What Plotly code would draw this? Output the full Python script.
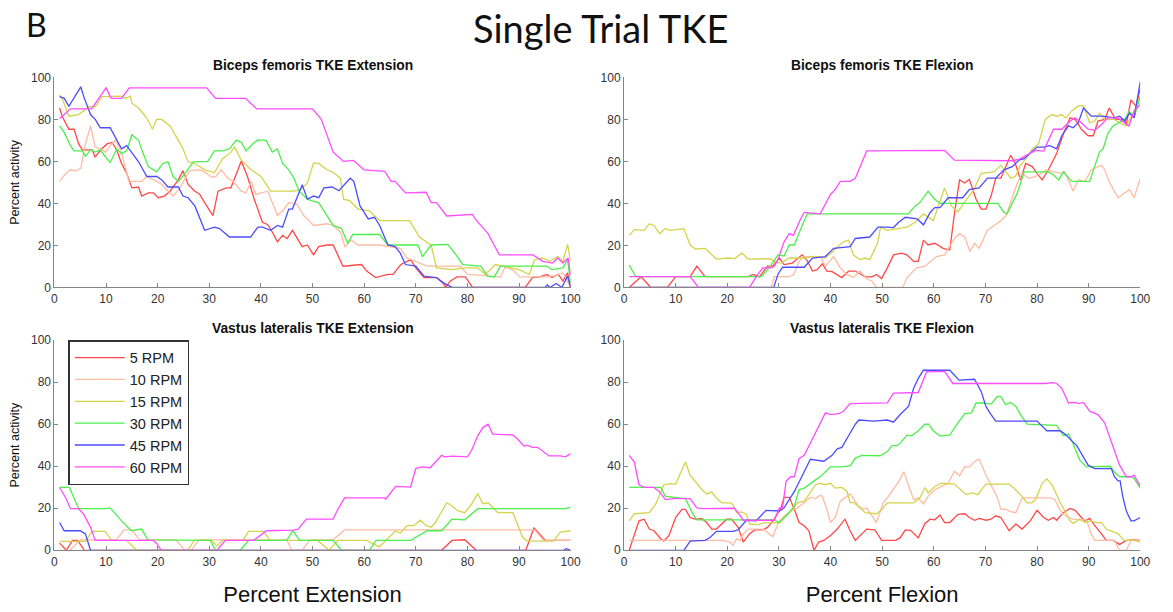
import plotly.graph_objects as go

# ---------------------------------------------------------------------------
# Data: (percent of movement, percent activity) vertices for each cadence
# ---------------------------------------------------------------------------
RPM_LABELS = ["5 RPM", "10 RPM", "15 RPM", "30 RPM", "45 RPM", "60 RPM"]
RPM_COLORS = ["#ff4848", "#ffbba3", "#d4d44c", "#4cef4c", "#4c4cff", "#ff4cff"]

# Biceps femoris, extension
BF_EXT_5 = [(1,85.4),(1.5,81.5),(2.8,75.3),(3.8,75.3),(4.7,68.3),(5.4,65.5),(7.3,65.5),(7.9,62),(8.5,64),(9.2,66),(10.2,68.3),(11.2,69),(12.1,65.2),(13,59),(14,54.3),(15,47.4),(16.3,47.8),(16.9,43.5),(18.2,45),(19.2,45),(20.1,42.7),(21.3,43.5),(22.4,45.8),(24,51.2),(24.9,55.6),(25.9,49),(27.2,45.8),(28.1,44.5),(29.1,40.4),(30.7,34.2),(31.7,45.8),(33.3,47.4),(34.2,47.4),(36.2,60.2),(37.4,52.8),(38.7,42),(40.3,31),(41.3,30),(42.2,26.4),(43.2,21.7),(44.2,24.8),(45.1,23.3),(46.1,27.2),(47,23.3),(48,19.4),(49,20.2),(50.2,15.5),(51.2,19.4),(52.8,20.2),(54,20.2),(55,14.8),(55.9,10.1),(59.5,10.9),(60.5,7.8),(62.2,4.7),(64.6,6.2),(65.6,6.2),(67.1,10.9),(69,13.2),(70,9.3),(71.6,4.7),(74,4.7),(75.3,2),(75.8,0),(76.7,3.1),(78,5),(79.6,5),(81,0),(91.2,0),(92.6,4.7),(94,5),(95.4,6.2),(96.4,4.7),(97.6,6.2),(98.5,3),(99.4,7),(100,0)]
BF_EXT_10 = [(1,50.5),(2.2,54.3),(3.1,56),(4.1,55.5),(5.1,56.7),(6,68.3),(7,76.9),(7.9,66.8),(8.9,66),(9.9,64.4),(10.8,67.5),(11.8,70),(13,64.4),(14.4,50.5),(16.9,50.5),(17.9,52.8),(19.8,50.5),(20.8,49),(21.7,46.6),(23,43.5),(24.3,47.4),(25.3,52),(26.2,55.6),(28.1,56),(29.1,55),(30.4,52.5),(31.3,52.8),(32.3,56),(33.6,52),(34.6,50.5),(36.2,45.8),(37.1,45),(38.1,50.5),(39,44.3),(40.3,45),(41.3,45.8),(42.2,40.4),(43.2,34.2),(44.5,37.3),(45.4,40.4),(47,39.6),(48.3,34.2),(49.3,31.8),(50.2,29.5),(52.8,30.3),(54,29.5),(55.4,26.4),(56.3,19.4),(57.5,22.5),(58.8,20.2),(63,20.2),(65,19.4),(67,18.6),(68.3,14),(70.6,11.6),(72.2,10.1),(78.6,10.1),(80,6.2),(86.4,5),(87.4,10.1),(88.9,8),(90.2,5),(95,5),(97,5.5),(98.5,7),(99.4,3),(100,0)]
BF_EXT_15 = [(1,91.6),(1.5,90),(2.8,81.5),(4.7,82.3),(6.7,86),(7.9,86),(9.2,90.8),(13,91),(13.8,90),(14.7,91),(15,87.7),(16.3,85.4),(17.6,81.5),(18.2,79.2),(19,75.3),(19.8,80),(20.8,80),(22.4,76.9),(24,70),(24.9,66),(25.9,59.8),(27.2,59),(29.1,56),(31,54.7),(32.6,61.3),(34.2,64.4),(34.9,66.8),(36.2,60.6),(38.1,56),(40,52.8),(41.9,45.8),(46.4,45.8),(47.7,46.5),(49,49.7),(50.2,59.3),(51.2,59),(52.8,56),(54,54.7),(55.4,52),(56,42),(57.2,41.3),(58.8,37.3),(61,36.5),(63,31.8),(68.8,31.8),(70.7,24),(73,20),(74,9.3),(77,8.5),(79.6,9.3),(82,9.3),(83.5,6.2),(85.4,10.9),(90,8.5),(92,6.2),(93,13.2),(94.6,14),(96,12.4),(97.5,14.7),(98.5,12.4),(99.4,20.5),(100,12.4)]
BF_EXT_30 = [(1,76.9),(1.9,73.8),(3.1,67.5),(3.8,65),(5.4,65),(6,62.4),(7,65.5),(7.9,64.4),(8.9,65.5),(9.9,62),(10.8,59.5),(12.1,66),(13,63.7),(14,65),(15,72.7),(16.3,70),(17.2,63.7),(18.2,57.5),(19.8,55),(21,59),(22,59.8),(23,52.8),(24,50.5),(25.3,54.3),(26.9,59.8),(29.7,60),(31,65),(32.6,65),(33.9,66),(35.2,70),(36.2,69.2),(37.1,65),(38.4,68.3),(39.4,70.2),(41,70),(42.2,64.4),(43.2,66),(44.2,59),(45.4,56),(46.4,52),(47.4,45.8),(49,42),(50.2,41),(51.2,40.4),(54,29.5),(55.6,28),(56.8,21),(57.8,25.2),(63,25.2),(64.6,20.2),(70.4,20.2),(71.3,14.8),(73,20.2),(76.2,20.5),(77.8,15.5),(79.1,10.9),(82.6,10.1),(83.9,5.4),(85.2,5),(86.4,10.1),(95.4,10.1),(96.4,8.5),(98.5,9.3),(99.4,13.2),(100,2)]
BF_EXT_45 = [(1,90.8),(1.9,90),(2.8,86.2),(3.8,90),(5.1,95.5),(5.8,90),(7,82.3),(7.9,80),(8.9,76),(10.8,76),(12.1,70),(13,66),(14,67.5),(15,64.4),(16.3,59.8),(17.9,52.8),(19.8,52.8),(20.8,51.2),(22,47.8),(24,47.8),(24.9,43.5),(25.9,42.7),(27.2,38.8),(29.1,27.2),(31,28.7),(32,28),(33.9,24),(38,24),(39.4,28.7),(40.3,28.7),(41.9,27.2),(43.2,29.5),(44.2,28.7),(45.4,37.3),(46.1,37.3),(48,48.9),(49,42),(50.2,43.5),(51.2,42.7),(52.2,47.4),(53.8,47.8),(55.1,46),(57.3,52),(58,50.5),(59.2,38.8),(60.8,32.6),(62,33.4),(63,29.5),(64.6,20.2),(66,19.4),(67,16.3),(68,10.9),(70,10.1),(71.6,5.4),(74,4.7),(75.3,2.3),(77,0),(95,0),(95.5,1.2),(96,0),(97.2,1.9),(98.3,0),(99.4,5.4),(100,0)]
BF_EXT_60 = [(1,80.3),(3.1,85),(7.2,85),(10,95),(11,90),(13,90),(14.5,95),(29.5,95),(31.2,90),(37,90),(39.2,85),(50,85),(51.7,80),(53,70.6),(54,64.4),(56,60),(57.9,60.5),(60,56),(64,55.3),(65.2,50.5),(66,50.5),(68,45),(72,45.3),(73,40.4),(74,40.4),(76,34),(81,34.8),(81.5,32.6),(84,25.6),(85,20.9),(86.2,15.5),(92.7,15.5),(94.6,12.4),(96.5,11.6),(97.5,14),(98.5,11.6),(99.5,14),(100,6)]

# Biceps femoris, flexion
BF_FLX_5 = [(1,0),(3.3,5.1),(5.2,0),(8.4,0),(10,5.1),(12.8,5.1),(14.1,10.1),(15.7,5.1),(24,5.1),(25,6.2),(26.2,5),(27.8,10.1),(28.8,10.1),(30.1,14),(31,10.9),(32.6,11.6),(34.5,15.5),(35.5,12.7),(36.5,7.8),(37.4,8.5),(38.4,11.2),(39.3,7.8),(40.3,7.5),(42.2,4.7),(43.5,7.8),(44.8,7.8),(46.7,5),(48,5),(48.9,6.2),(49.9,4.3),(51,9.3),(52.2,15.5),(53.8,16.3),(54.8,15.5),(56.1,12.4),(57,12.4),(58,22.5),(58.9,20.2),(60.2,21),(61.8,18.6),(63.1,17.8),(64,35),(65,51.2),(66,49.7),(66.9,51.5),(68.2,42),(69.2,37.3),(70.1,37.3),(71.1,43.5),(72,52),(73,52),(74.9,62.9),(75.8,59),(76.8,51.2),(77.8,59),(79.1,57.5),(80,54.3),(81,51.2),(82.2,56),(83.8,63.7),(85.1,73),(86.4,80.7),(87.4,80),(88.6,75.3),(89.9,72.2),(90.9,72.2),(91.8,79.2),(93.1,80),(94,85.4),(95.2,80),(96.9,80),(97.3,77.6),(98.2,89.3),(99.2,86.2),(100,94.7)]
BF_FLX_10 = [(1,0),(28.5,0),(29.1,5.1),(32,5.1),(32.9,6.2),(33.9,12.4),(34.9,14.7),(38,14.7),(39,10.1),(40.6,14.7),(41.9,9.3),(43.1,6.2),(44.4,4.7),(45.7,7.8),(47,4),(48,3.1),(48.9,0),(54,0),(54.8,4.7),(56.7,9.3),(58.3,10.1),(60.5,14.7),(62.1,15.5),(63.1,19.4),(64,23.3),(65,25.6),(66,24),(67,17.1),(67.9,21),(68.8,18.6),(70.4,27.2),(71.7,29.5),(73,31.8),(74,34.2),(74.9,40.4),(76.2,49.7),(77.1,54.3),(78.4,52),(79.7,52.8),(81.9,55.9),(83.2,55),(84.8,54.3),(85.4,55),(86.4,49.7),(87,45.8),(88,51.2),(89.3,50.5),(90.5,55.9),(92.5,58.2),(93.1,55.9),(94.1,49.7),(95.7,42.7),(96.7,44.3),(97.9,46.6),(98.8,42.7),(100,52)]
BF_FLX_15 = [(1,24.8),(2,27.5),(3.9,27.2),(4.9,30.3),(5.8,29.5),(6.9,25.6),(7.9,28),(9,27.2),(11.6,28),(12.8,20.2),(13.8,18.3),(15.7,18.6),(17.9,13.5),(20.2,14),(21.4,13.7),(22.9,16.3),(24,13.5),(28.2,13.7),(29.1,12.4),(30.4,11.6),(32,14),(34.9,14),(36.8,14.8),(39,14),(42.5,21.7),(43.5,22.5),(44.4,15.5),(45.7,13.2),(46.7,14),(47.6,13.2),(49.1,21),(49.7,28.7),(51,27.2),(53.5,28),(54.8,28.7),(56.4,31),(58,35),(59.9,31.8),(62.1,47.4),(63.4,38.8),(64.7,36),(66.6,42.7),(67.6,45.8),(69.2,54.3),(71.7,55),(73,58.2),(74.9,52),(75.8,52.8),(76.8,58.2),(78.1,62),(79.1,66),(80.3,68.3),(81.6,80),(82.9,82.3),(83.8,81.5),(84.8,82.3),(85.5,80.7),(86.7,83.9),(88,86.5),(89,86.5),(90.2,78.4),(91.2,79.2),(92.1,83),(93.1,80),(95,80),(96,78.4),(97.3,76.9),(98.5,82.3),(99.5,88),(100,90.8)]
BF_FLX_30 = [(1,10.6),(2.3,5.1),(26.6,5.1),(28.5,10.6),(29.8,15.5),(31,15),(32,20.2),(33,20.2),(34.5,29.5),(35.5,35),(55.1,35),(56.4,38.8),(57.3,40.4),(58.9,45.8),(60.2,42),(61.2,40),(72.4,40),(73.6,35.7),(74.2,35),(75.5,42),(76.2,45),(77.5,55),(82.2,55),(83.2,53.5),(84.2,51.2),(85.1,55),(86.7,50.5),(90.2,50.5),(91.2,57.5),(92.1,64.4),(92.8,66),(93.7,73),(94.7,76.9),(97,80),(97.9,83.9),(98.8,80.7),(100,90.8)]
BF_FLX_45 = [(1,0),(29,0),(29.8,6.2),(30.7,9.6),(34.9,9.6),(36.5,14),(39,14.7),(40.6,18.6),(43.8,19.4),(44.8,23.3),(47.6,24),(49.2,28.7),(50.9,28.7),(52.2,28.5),(53.2,31),(54.5,33.4),(56.8,32.6),(58,29.8),(59.3,35.7),(60.2,38),(61.2,38),(62.8,42.7),(65.6,42.7),(66.9,46.6),(68.8,47.4),(70.4,52),(72,52),(73.6,56),(75.2,57.5),(76.5,60.6),(77.5,61.3),(79.1,65),(80,66.8),(81.3,66.8),(82.5,67.5),(83.8,66),(84.8,72.2),(86.1,76.9),(87,76),(88,78.4),(89,85.4),(90.5,81.5),(92.7,81.5),(95,80.7),(96,81.5),(97,79.2),(97.9,83),(98.8,80.7),(100,97.8)]
BF_FLX_60 = [(1,5.1),(12.8,5.1),(14.4,0),(24.3,0),(25.9,6.2),(26.9,9.3),(28.5,9.3),(29.1,10.1),(29.8,13.2),(31,21.7),(32,25.6),(32.8,24.8),(34.2,32.6),(34.9,35.7),(38,35),(40,44.3),(40.9,46.6),(41.9,50.5),(43.8,50.5),(44.8,52),(46,59),(47,65),(62.1,65.2),(64,60.6),(75.2,60.3),(76.5,61),(79.7,65.2),(81.3,64.9),(82.2,70),(83.2,75.3),(84.8,75.3),(86.4,79.2),(87.4,80.7),(88.6,78.4),(89.9,75.3),(91.2,74.8),(92.5,77.6),(93.7,80.7),(95.6,80.7),(96.9,78.4),(97.8,76.9),(98.8,83.9),(100,87)]

# Vastus lateralis, extension
VL_EXT_5 = [(1,3.4),(2.3,0),(3.5,4.7),(4.5,4.7),(5.8,0),(75,0),(77,4.7),(79.5,5),(81.7,0),(91.3,0),(92.9,10.6),(95.1,4.7),(100,4.7)]
VL_EXT_10 = [(1,0),(3,0),(5,5),(12,5),(13.5,9.7),(15,9.7),(16.5,5),(23.5,5),(25.3,0),(26.5,0),(28,5),(45,5),(46,0),(48,0),(49.5,5),(54,5),(56.2,9.7),(93,9.7),(94.8,4.7),(100,4.7)]
VL_EXT_15 = [(1,4.2),(6,4.2),(7.3,9),(9.8,9),(11.1,4.7),(14,4.7),(15.9,0),(25.8,0),(27.1,4.7),(30.5,4.7),(31.5,2),(32.5,4.7),(36.5,4.7),(37.6,9),(40.5,9),(41.8,4.7),(51,4.7),(53.2,0),(54.9,4.7),(59.7,4.4),(60.5,4.7),(62.9,1.6),(64.2,4.7),(66.1,9.3),(67,8.1),(68.3,11.7),(69.6,11.7),(70.9,14.3),(72,11.7),(73,11),(73.8,13.2),(76,22.6),(76.6,21.8),(78.2,18.7),(79.5,17.9),(80.8,22),(82,27),(83,22.1),(84,22.6),(85.9,17.9),(88.8,17.9),(90.7,6.2),(91.6,4.4),(96.7,4.4),(98,8.6),(100,9.3)]
VL_EXT_30 = [(1,29.9),(2.9,29.9),(4.7,19.8),(9.8,19.8),(10.8,20.2),(13,14),(14.9,9.3),(16.9,10.1),(18.1,5),(29.9,5),(30.2,4.7),(31.2,0),(36,0),(37.6,4.7),(45,4.7),(46.2,9.3),(47.5,4.7),(54,4.7),(55.6,0),(61,0),(62.3,4.7),(69,4.7),(72.2,9.3),(75,9.3),(77,14.8),(79.5,14.5),(82,19.8),(99,19.8),(100,20.6)]
VL_EXT_45 = [(1,13.2),(1.9,9.3),(5,9.3),(6,7.8),(7,0),(98.6,0),(99.2,0.8),(100,0)]
VL_EXT_60 = [(1,29.9),(2.2,24.9),(3.1,19.8),(4.7,19.8),(5.7,17.1),(7,10.9),(7.9,4.7),(19.1,4.7),(19.8,3.4),(20.7,0),(31.5,0),(33.1,4.7),(38.6,4.7),(41.1,9.3),(46.2,9.6),(47.2,10.1),(48.8,14.8),(54,14.8),(54.9,19.5),(56.2,24.9),(63.9,24.9),(64.2,24.4),(66.1,30.4),(69,30.1),(70,38.9),(71.2,39.7),(72.8,39.3),(75,45.2),(75.6,44.5),(77,44.8),(80,44.5),(80.8,47.5),(82,54.5),(83,58.4),(84,60),(84.9,55.3),(88.8,54.9),(89.7,53),(91,49.5),(91.6,50),(92.6,49),(93.6,49),(95.8,44.9),(98,44.9),(99,44.5),(100,46)]

# Vastus lateralis, flexion
VL_FLX_5 = [(1,0),(2.9,14),(3.9,14.8),(4.9,10.1),(5.8,9.3),(7.1,5.5),(7.7,4.4),(8.7,7),(10,15.6),(11.2,19.5),(11.9,19.5),(12.8,15.6),(13.8,14.8),(15.1,15),(16,13.2),(17,10.1),(17.9,10.1),(18.9,12.5),(19.9,14.8),(20.8,14.8),(22.1,10.9),(23.1,3.9),(24.3,7.8),(25.3,9.7),(26.9,9.7),(27.8,10.9),(29.1,14.8),(30.4,20.2),(31,25.2),(32,25.2),(33,19.5),(33.9,13.2),(34.9,11.7),(35.8,9.3),(36.8,0),(37.7,3.9),(38.7,4.7),(40,7),(41.3,10.1),(42.8,14.8),(43.8,9.3),(44.8,4.7),(46,7.8),(47,10.1),(48.6,9.7),(49.9,4.7),(52.6,4.7),(53.5,6),(54.5,9.7),(55.5,9.5),(57,5.9),(58.3,12.8),(59.3,14.8),(60.2,14.5),(61.2,16.8),(62.1,13.2),(63.1,13.2),(64.7,17.1),(66,17.4),(66.9,15.6),(67.9,14.3),(68.8,15.2),(70.1,14.3),(71.1,14.8),(72,16.4),(73,15.6),(74.6,9.3),(75.9,12.5),(77.1,10.1),(78.7,14),(80,19),(81.3,15.6),(82.2,14.3),(83.2,15.6),(83.8,14.3),(85.1,17.9),(86.4,19.9),(87.4,19),(88.6,15.6),(89.3,14),(90.2,15.2),(91.2,11.7),(92.5,7.8),(93.4,4.7),(94.7,4.7),(96,2.8),(97.3,4.7),(98.9,5),(100,4.7)]
VL_FLX_10 = [(1,4.7),(19,4.7),(20.5,3.9),(21.1,2.3),(21.8,5.5),(22.5,4.7),(23.1,7.8),(24,10.1),(26.6,10.1),(27.2,9.7),(28.8,6.5),(30.1,14),(31.4,17.1),(32.3,18.7),(33.6,20.2),(34.9,22.6),(36.1,25.2),(37.1,24.6),(38,26.2),(38.4,25.7),(39.3,19.5),(40,13.2),(40.9,15.6),(41.9,23.4),(42.8,24.9),(43.8,26.8),(44.8,23.4),(45.4,21),(46.4,19.5),(47,20.2),(48.9,13.2),(50.2,22.6),(51,24.9),(51.9,28),(53.2,32.7),(54.2,37.4),(55.1,31.2),(56.1,24.1),(57,24.9),(58,22.1),(58.9,25.7),(60.2,28.8),(61.5,30.4),(62.8,31.9),(64,37.7),(65,35.5),(66,39.7),(66.9,39.7),(68.2,42.8),(68.8,43.3),(70.1,35.8),(71.4,29.6),(72.3,25.2),(73,19.5),(74,19.5),(74.9,18.4),(75.9,17.9),(77.1,24.9),(82.6,24.9),(83.5,24.1),(84.2,20.2),(85.1,17.1),(86.1,15.6),(87,14.8),(89.6,14.5),(90.5,7.8),(91.2,4.7),(95,4.7),(96,0),(97.3,0),(98.2,4.7),(100,4.7)]
VL_FLX_15 = [(1,14),(2,17.4),(4.9,17.9),(6.1,21.8),(7.7,31.2),(9,31.7),(10,31.5),(11.9,42),(12.8,35.8),(14.1,31.9),(15.1,28.8),(16,26.8),(17,27.7),(17.9,24.9),(18.9,22.6),(20.5,22.6),(21.1,21.8),(21.8,17.9),(22.7,18.3),(23.7,17.2),(24.3,12.5),(26,12.2),(27.2,13.2),(28.5,13.2),(30.1,13),(31,15.6),(32,17.9),(33.6,22.6),(34.9,23.4),(35.8,26.5),(37.1,31.2),(38,31.9),(38.9,31.2),(40,31.9),(40.9,29.6),(42.2,29.9),(43.2,28),(43.8,22.6),(44.4,22.9),(45.7,20.2),(46.7,17.9),(48.9,17.4),(49.6,18.7),(50,19.5),(51,22.6),(56.1,22.6),(57.3,24.9),(58.3,29.9),(58.9,27.3),(60.2,30.4),(61.5,31.9),(64,31.5),(65.6,28),(66.3,26.5),(67.6,27.3),(68.5,26.5),(70.1,31.5),(74.6,31.5),(75.5,29.6),(76.8,26.5),(78.1,22.6),(79,22.6),(79.7,24),(81,31.9),(81.9,34),(82.9,31.2),(83.8,26.5),(84.5,22.6),(85.4,18.7),(86.4,14),(87,12.8),(88.3,14.8),(89.3,13.2),(90.5,14),(91.5,13.2),(92.5,13.2),(93.4,10.1),(94.4,9),(95.7,7.8),(96.9,4.7),(98.8,4.7),(100,3.9)]
VL_FLX_30 = [(1,29.9),(7.1,29.9),(8,25.7),(11.2,25),(11.9,24.6),(13.2,17.9),(14.1,14.5),(29.1,14.5),(30.1,13.2),(31.7,17.1),(33,21),(33.9,28.8),(34.9,29.6),(37.1,33.5),(38,35),(40,39.7),(41.9,39.7),(43.8,40.2),(44.8,43.9),(46,45.2),(49.6,45),(51,47),(51.9,49.8),(52.9,49.8),(53.5,51),(54.8,54.8),(55.7,54.5),(57,56.9),(58.3,60),(59,60),(59.9,56.9),(61.2,54.5),(63.1,54.8),(64.7,60.7),(66,65.1),(67.3,65.4),(68.2,70.1),(69.5,70.1),(71.1,69.6),(72.3,73.2),(73,73.2),(73.9,69.3),(74.9,70.4),(75.9,68.5),(76.8,64.6),(78.1,60),(80.3,59.7),(83.8,59.5),(85.1,54.5),(86.1,55.3),(87,50.6),(88.3,42.8),(89.6,39.7),(94.1,40),(95,37.4),(96,35),(98.2,35),(98.8,34.2),(100,29.6)]
VL_FLX_45 = [(1,0),(11.6,0),(12.8,4.4),(15.7,4.7),(16.7,6.2),(17.9,9),(21.1,9),(22.1,9.7),(23.7,14.3),(25.6,14),(27.5,19),(30.1,18.7),(31,20.2),(33,28),(34.9,37.4),(36.1,43.3),(38.7,42.4),(40.3,45.2),(41.3,48.3),(42.2,49),(43.5,54.5),(44.8,60),(45.5,62),(48.4,61.5),(51,62),(52.2,61),(53.5,64.6),(54.1,66.2),(55.1,68.5),(56.1,77.1),(57,81.8),(58,85.7),(63.1,85.7),(64.9,81),(66.3,81.2),(67.9,81.4),(69.2,75.5),(70.1,68.5),(71.1,64.6),(72,61.5),(80,61.5),(81,58.9),(81.9,56.9),(84.5,56.9),(85.4,55.3),(86.7,52.2),(87.7,49.8),(88.6,46),(89.9,40.5),(91.2,38.9),(94.4,38.9),(95,35),(95.7,33),(96.1,33),(96.6,25.7),(97.3,18.7),(98.2,14),(98.8,14),(100,15.6)]
VL_FLX_60 = [(1,45.2),(2,42),(2.9,31.2),(3.9,29.9),(5.8,29.9),(6.8,28),(8,24.1),(9.6,24.6),(12.8,24.6),(14.1,20.2),(15.1,19.8),(20.5,19.8),(21.4,20),(22.1,17.9),(23.1,14.3),(29.1,14.3),(30.1,20.2),(30.7,20.2),(31.4,33),(32.3,35),(33,35),(33.9,43.6),(34.9,45.2),(36.8,54.5),(39,65.4),(40,64.6),(41.6,65),(42.5,66.2),(43.8,69.8),(51,70.2),(52.2,74.8),(57,75.1),(58.6,84.9),(62.1,85.2),(63.7,79.4),(81.6,79.4),(83,79.8),(83.8,79.4),(84.8,77.1),(86.1,70.1),(87.4,70.4),(88,69.8),(89,70.4),(90.2,66.2),(91.8,64.6),(93.1,60.7),(94.4,51.4),(96,40.5),(97.3,35),(98.2,35),(98.8,35.8),(100,30.4)]

PANEL_TITLES = ["Biceps femoris TKE Extension", "Biceps femoris TKE Flexion",
                "Vastus lateralis TKE Extension", "Vastus lateralis TKE Flexion"]
PANEL_SERIES = [
    [BF_EXT_5, BF_EXT_10, BF_EXT_15, BF_EXT_30, BF_EXT_45, BF_EXT_60],
    [BF_FLX_5, BF_FLX_10, BF_FLX_15, BF_FLX_30, BF_FLX_45, BF_FLX_60],
    [VL_EXT_5, VL_EXT_10, VL_EXT_15, VL_EXT_30, VL_EXT_45, VL_EXT_60],
    [VL_FLX_5, VL_FLX_10, VL_FLX_15, VL_FLX_30, VL_FLX_45, VL_FLX_60],
]
X_TICKS = list(range(0, 101, 10))
Y_TICKS = list(range(0, 101, 20))

# ---------------------------------------------------------------------------
# Layout geometry (pixels of a 1173 x 612 canvas)
# ---------------------------------------------------------------------------
W, H = 1173, 612
COLS = [(52, 574), (628, 1150)]
ROWS = [(72, 287), (341, 556)]

FONT = "Liberation Sans, Arial, sans-serif"
fig = go.Figure()

for p, (title, series) in enumerate(zip(PANEL_TITLES, PANEL_SERIES)):
    r, c = divmod(p, 2)
    ax = p + 1
    xname = "x" if ax == 1 else f"x{ax}"
    yname = "y" if ax == 1 else f"y{ax}"
    for label, color, pts in zip(RPM_LABELS, RPM_COLORS, series):
        fig.add_trace(go.Scatter(
            x=[pt[0] for pt in pts], y=[pt[1] for pt in pts],
            mode="lines", name=label, legendgroup=label,
            showlegend=(p == 2),
            line=dict(color=color, width=1.3),
            xaxis=xname, yaxis=yname, hoverinfo="skip",
        ))
    x0, x1 = COLS[c]
    y0, y1 = ROWS[r]
    axis_common = dict(
        showline=True, linecolor="#858585", linewidth=1,
        ticks="inside", ticklen=4, tickcolor="#858585",
        tickfont=dict(family=FONT, size=12, color="#333333"),
        showgrid=False, zeroline=False, mirror=False,
    )
    xaxis = dict(
        domain=[x0 / W, x1 / W], range=[0, 100], tickvals=X_TICKS,
        anchor=yname, **axis_common,
    )
    if r == 1:
        xaxis["title"] = dict(text="Percent Extension" if c == 0 else "Percent Flexion",
                              font=dict(family=FONT, size=22, color="#111111"),
                              standoff=18)
    yaxis = dict(
        domain=[1 - y1 / H, 1 - y0 / H], range=[0, 100], tickvals=Y_TICKS,
        anchor=xname, **axis_common,
    )
    if c == 0:
        yaxis["title"] = dict(text="Percent activity",
                              font=dict(family=FONT, size=12.5, color="#111111"),
                              standoff=8)
    key = "" if ax == 1 else str(ax)
    fig.layout["xaxis" + key] = xaxis
    fig.layout["yaxis" + key] = yaxis

    fig.add_annotation(
        text=f"<b>{title}</b>", xref="paper", yref="paper",
        x=(x0 + x1) / 2 / W, y=1 - (y0 - 2) / H, xanchor="center", yanchor="bottom",
        showarrow=False, font=dict(family=FONT, size=13.8, color="#111111"),
    )

fig.add_annotation(text="Single Trial TKE", xref="paper", yref="paper",
                   x=604 / W, y=1 - 21 / H, xanchor="center", yanchor="middle",
                   showarrow=False, font=dict(family="Lato, sans-serif", size=38, color="#111111"))
fig.add_annotation(text="B", xref="paper", yref="paper",
                   x=21 / W, y=1 - 18 / H, xanchor="left", yanchor="middle",
                   showarrow=False, font=dict(family="Lato, sans-serif", size=32, color="#111111"))

fig.update_layout(
    width=W, height=H,
    margin=dict(l=0, r=0, t=0, b=0),
    paper_bgcolor="white", plot_bgcolor="white",
    legend=dict(
        x=66 / W, y=1 - 341 / H, xanchor="left", yanchor="top",
        bordercolor="#333333", borderwidth=1.5, bgcolor="white",
        font=dict(family=FONT, size=14.5, color="#222222"),
        itemwidth=50, tracegroupgap=0,
    ),
    showlegend=True,
)

fig.write_html("out.html")
